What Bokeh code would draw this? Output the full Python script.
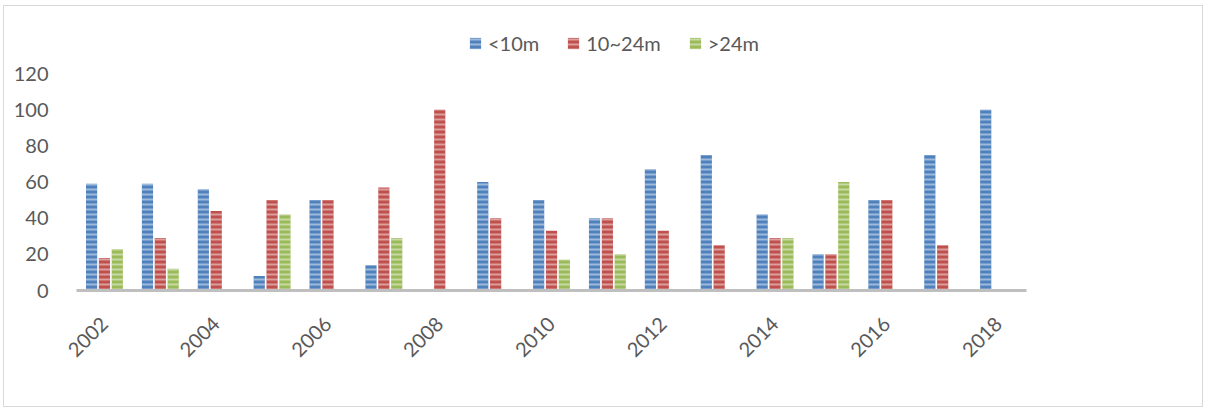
import math
from bokeh.plotting import figure
from bokeh.models import Range1d, FixedTicker, Legend, LegendItem
from bokeh.embed import file_html
from bokeh.resources import INLINE

years = list(range(2002, 2019))
under_10m = [59, 59, 56, 8, 50, 14, 0, 60, 50, 40, 67, 75, 42, 20, 50, 75, 100]
m10_24 = [18, 29, 44, 50, 50, 57, 100, 40, 33, 40, 33, 25, 29, 20, 50, 25, 0]
over_24m = [23, 12, 0, 42, 0, 29, 0, 0, 17, 20, 0, 0, 29, 60, 0, 0, 0]
series_names = ["<10m", "10~24m", ">24m"]
tick_years = [2002, 2004, 2006, 2008, 2010, 2012, 2014, 2016, 2018]
y_ticks = [0, 20, 40, 60, 80, 100, 120]

colors = ["#4f81bd", "#c0504d", "#9bbb59"]
offsets = [-0.23, 0.0, 0.23]
FONT = "Lato"
TXT = "#595959"
FS = "20px"

# frame spans page y 18..290; value 120 sits at page y 73
y_top = 120 * (290 - 18) / (290 - 73)

p = figure(width=1200, height=402, output_backend="svg", toolbar_location=None,
           x_range=Range1d(2001.5, 2018.5), y_range=Range1d(0, y_top),
           min_border_left=72, min_border_right=178, min_border_top=12, min_border_bottom=118)
p.styles = {"border": "1px solid #d9d9d9", "margin-left": "3px", "margin-top": "5px"}
p.outline_line_color = None
p.xgrid.grid_line_color = None
p.ygrid.grid_line_color = None

renderers = []
for vals, col, off in zip([under_10m, m10_24, over_24m], colors, offsets):
    xs = [y + off for y in years]
    r = p.vbar(x=xs, top=vals, width=0.2, fill_color=col, line_color=None,
               hatch_pattern="horizontal_line", hatch_color="white", hatch_alpha=0.45,
               hatch_scale=5, hatch_weight=2)
    renderers.append(r)

xa = p.xaxis[0]
xa.ticker = FixedTicker(ticks=tick_years)
xa.major_label_orientation = math.pi / 4
xa.axis_line_color = "#bfbfbf"
xa.axis_line_width = 3
xa.major_tick_line_color = None
xa.minor_tick_line_color = None
xa.major_label_text_font = FONT
xa.major_label_text_font_size = FS
xa.major_label_text_color = TXT
xa.major_label_standoff = 24

ya = p.yaxis[0]
ya.ticker = FixedTicker(ticks=y_ticks)
ya.axis_line_color = None
ya.major_tick_line_color = None
ya.minor_tick_line_color = None
ya.major_label_text_font = FONT
ya.major_label_text_font_size = FS
ya.major_label_text_color = TXT
ya.major_label_standoff = 22

items = [LegendItem(label=n, renderers=[r]) for n, r in zip(series_names, renderers)]
lg = Legend(items=items, location=(392, 235), orientation="horizontal",
            padding=0, margin=0, spacing=27,
            glyph_width=14, glyph_height=14, label_height=14, label_standoff=6,
            label_text_font=FONT, label_text_font_size=FS, label_text_color=TXT,
            border_line_color=None, background_fill_alpha=0)
p.add_layout(lg, "center")

open("out.html", "w").write(file_html(p, INLINE))
